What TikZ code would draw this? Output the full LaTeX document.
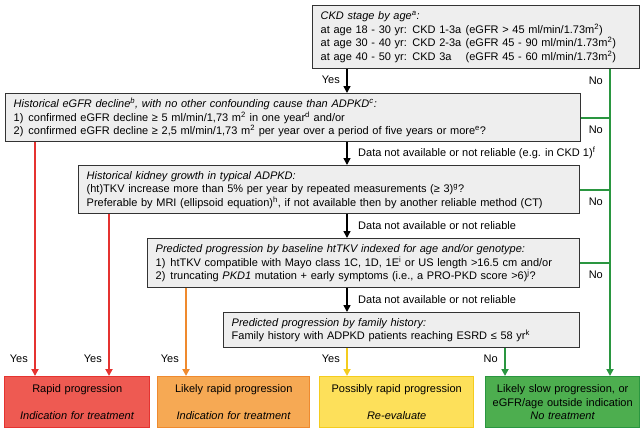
\documentclass[tikz,border=0pt]{standalone}
\usepackage{fontspec}
\setmainfont{Liberation Sans}
\usetikzlibrary{positioning, arrows.meta}
\definecolor{boxgray}{HTML}{EEEEEE}
\definecolor{redln}{HTML}{E53330}
\definecolor{redfill}{HTML}{EE5A52}
\definecolor{orangeln}{HTML}{EF8A2E}
\definecolor{orangefill}{HTML}{F6A954}
\definecolor{yellowln}{HTML}{F4CC1E}
\definecolor{yellowfill}{HTML}{FDE05A}
\definecolor{greenln}{HTML}{2A9640}
\definecolor{greenfill}{HTML}{4DAE4F}

\begin{document}
\begin{tikzpicture}[x=1pt, y=-1pt,
    font=\fontsize{11}{13.5}\selectfont,
    question/.style={rectangle, draw=black!80, line width=1.4pt, fill=boxgray, align=left, anchor=north west, inner xsep=8pt, inner ysep=0pt},
    outcome/.style 2 args={rectangle, draw=#1, fill=#2, line width=1.4pt, align=center, anchor=north west, inner sep=0pt, minimum height=51pt},
    arrow/.style={-{Triangle[length=7pt,width=7pt]}, line width=1.5pt},
    branch/.style={line width=2pt, draw=#1},
    tag/.style={inner sep=1pt}
]
\useasboundingbox (0,0) rectangle (644,431);

% questions
\node[question, text width=311pt, minimum height=63pt] (ckd) at (312,5)
{\textit{CKD stage by age\textsuperscript{a}:}\\
\makebox[145pt][l]{at age 18 - 30 yr: CKD 1-3a}(eGFR > 45 ml/min/1.73m\textsuperscript{2})\\
\makebox[145pt][l]{at age 30 - 40 yr: CKD 2-3a}(eGFR 45 - 90 ml/min/1.73m\textsuperscript{2})\\
\makebox[145pt][l]{at age 40 - 50 yr: CKD 3a}(eGFR 45 - 60 ml/min/1.73m\textsuperscript{2})};
\node[question, text width=559pt, minimum height=48pt] (egfr) at (5,93)
{\textit{Historical eGFR decline\textsuperscript{b}, with no other confounding cause than ADPKD\textsuperscript{c}:}\\
1)\hspace{5pt}confirmed eGFR decline ≥ 5 ml/min/1,73 m\textsuperscript{2} in one year\textsuperscript{d} and/or\\
2)\hspace{5pt}confirmed eGFR decline ≥ 2,5 ml/min/1,73 m\textsuperscript{2} per year over a period of five years or more\textsuperscript{e}?};
\node[question, text width=485pt, minimum height=48pt] (growth) at (78,165)
{\textit{Historical kidney growth in typical ADPKD:}\\
(ht)TKV increase more than 5\% per year by repeated measurements (≥ 3)\textsuperscript{g}?\\
Preferable by MRI (ellipsoid equation)\textsuperscript{h}, if not available then by another reliable method (CT)};
\node[question, text width=416pt, minimum height=49pt] (baseline) at (147,238)
{\textit{Predicted progression by baseline htTKV indexed for age and/or genotype:}\\
1)\hspace{5pt}htTKV compatible with Mayo class 1C, 1D, 1E\textsuperscript{i} or US length >16.5 cm and/or\\
2)\hspace{5pt}truncating \textit{PKD1} mutation + early symptoms (i.e., a PRO-PKD score >6)\textsuperscript{j}?};
\node[question, text width=340pt, minimum height=35pt] (family) at (223,312)
{\textit{Predicted progression by family history:}\\
Family history with ADPKD patients reaching ESRD ≤ 58 yr\textsuperscript{k}};

% outcomes
\node[outcome={redln}{redfill}, text width=145pt] (rapid) at (4,376)
{Rapid progression\\[13.5pt]\textit{Indication for treatment}};
\node[outcome={orangeln}{orangefill}, text width=152pt] (likely) at (157,376)
{Likely rapid progression\\[13.5pt]\textit{Indication for treatment}};
\node[outcome={yellowln}{yellowfill}, text width=154pt] (possibly) at (319,376)
{Possibly rapid progression\\[13.5pt]\textit{Re-evaluate}};
\node[outcome={greenln}{greenfill}, text width=154pt] (slow) at (485,376)
{Likely slow progression, or\\eGFR/age outside indication\\\textit{No treatment}};

\coordinate (spine) at (347,0);
\coordinate (nox) at (610,0);
\coordinate (yesa) at (35,0);
\coordinate (yesb) at (109,0);
\coordinate (yesc) at (186,0);
\coordinate (nod) at (505,0);

% main spine
\draw[arrow] (ckd.south -| spine) -- (egfr.north -| spine);
\draw[arrow] (egfr.south -| spine) -- (growth.north -| spine);
\draw[arrow] (growth.south -| spine) -- (baseline.north -| spine);
\draw[arrow] (baseline.south -| spine) -- (family.north -| spine);

% no branch
\draw[arrow, branch=greenln] (ckd.south -| nox) -- (slow.north -| nox);
\foreach \q in {egfr, growth, baseline}
  \draw[branch=greenln] (\q.east) -- (\q.east -| nox);
\draw[arrow, branch=greenln] (family.south -| nod) -- (slow.north -| nod);

% yes branches
\draw[arrow, branch=redln] (egfr.south -| yesa) -- (rapid.north -| yesa);
\draw[arrow, branch=redln] (growth.south -| yesb) -- (rapid.north -| yesb);
\draw[arrow, branch=orangeln] (baseline.south -| yesc) -- (likely.north -| yesc);
\draw[arrow, branch=yellowln] (family.south -| spine) -- (possibly.north -| spine);

% labels
\node[tag, left=6pt] (yes0) at (347,80) {Yes};
\node[tag, left=6pt] (no0) at (610,81) {No};
\node[tag, left=6pt] (no1) at (610,130) {No};
\node[tag, left=6pt] (no2) at (610,202) {No};
\node[tag, left=6pt] (no3) at (610,275) {No};
\node[tag, right=10pt] (na1) at (347,153) {Data not available or not reliable (e.g. in CKD 1)\textsuperscript{f}};
\node[tag, right=10pt] (na2) at (347,226) {Data not available or not reliable};
\node[tag, right=10pt] (na3) at (347,300) {Data not available or not reliable};
\node[tag, left=6pt] (yes1) at (35,359) {Yes};
\node[tag, left=6pt] (yes2) at (109,359) {Yes};
\node[tag, left=6pt] (yes3) at (186,359) {Yes};
\node[tag, left=6pt] (yes4) at (347,359) {Yes};
\node[tag, left=6pt] (no4) at (505,359) {No};
\end{tikzpicture}
\end{document}
